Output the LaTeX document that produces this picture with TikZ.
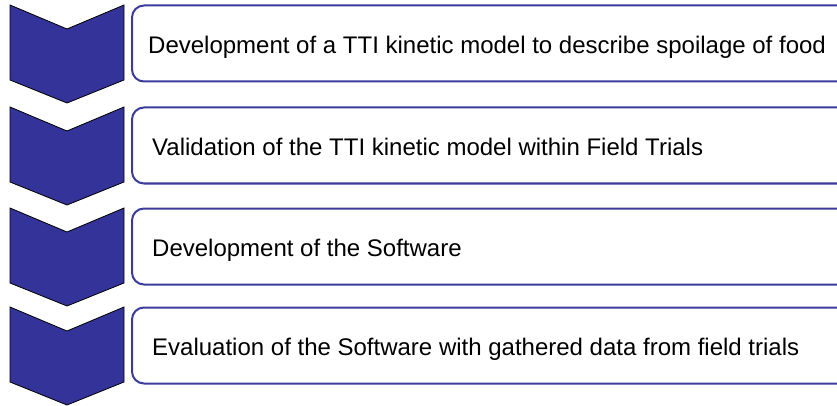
\documentclass[tikz,border=0pt]{standalone}
\usepackage{fontspec}
\setmainfont{Liberation Sans}
\usetikzlibrary{positioning}
\definecolor{indigo}{HTML}{333399}
\definecolor{marco}{HTML}{3B3B9C}

\begin{document}
\begin{tikzpicture}[x=1pt, y=-1pt, font=\fontsize{24}{28}\selectfont,
    chevron/.style={fill=indigo, draw=black, line width=0.8pt, line join=miter},
    etapa/.style={draw=marco, fill=white, line width=2pt, rounded corners=12pt,
                  minimum width=760pt, minimum height=76pt, inner sep=0pt, anchor=north west},
    rotulo/.style={anchor=base west, inner sep=0pt}]
	\useasboundingbox (0,0) rectangle (837,406);
	\clip (0,0) rectangle (837,406);
	\foreach \n/\y/\dx/\t in {1/5/17/{Development of a TTI kinetic model to describe spoilage of food},
	                          2/107/21/{Validation of the TTI kinetic model within Field Trials},
	                          3/208/21/{Development of the Software},
	                          4/307/21/{Evaluation of the Software with gathered data from field trials}} {
		\draw[chevron] (10,\y) -- (67,\y+24) -- (124,\y) -- (124,\y+75)
			-- (67,\y+98) -- (10,\y+75) -- cycle;
		\node[etapa] (etapa\n) at (131,\y-0.5) {};
		\node[rotulo] (rotulo\n) at ([xshift=\dx pt, yshift=-10pt]etapa\n.west) {\t};
	}
\end{tikzpicture}
\end{document}
